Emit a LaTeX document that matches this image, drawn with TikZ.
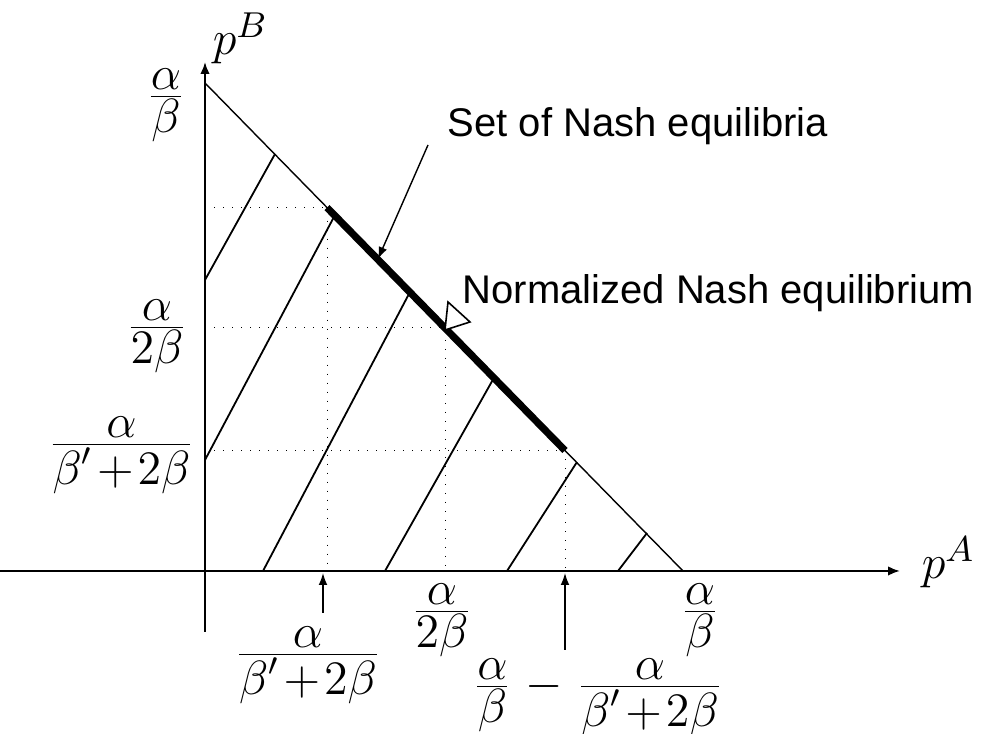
\documentclass[tikz,border=0pt]{standalone}
\usepackage{amsmath}
\usepackage{fontspec}
\setsansfont{Liberation Sans}
\usetikzlibrary{arrows.meta}
\newcommand{\myfr}[2]{\frac{\displaystyle #1}{\displaystyle #2}}
\newcommand{\mydenom}{\beta'\mkern1.5mu{+}\mkern1.5mu2\beta}
\tikzset{
  px/.style={x=0.25pt,y=-0.25pt},
  axisline/.style={line width=0.55pt,-{Latex[length=3pt,width=2.4pt]}},
  hyp/.style={line width=0.35pt},
  thickseg/.style={line width=1.8pt},
  guide/.style={line width=0.25pt,dotted},
  hatch/.style={line width=0.45pt},
  pointer/.style={line width=0.35pt,-{Latex[length=3pt,width=2.2pt]}},
  mlabel/.style={inner sep=0pt,font=\fontsize{11.5}{14}\selectfont},
  axlabel/.style={inner sep=0pt,font=\fontsize{13}{15}\selectfont},
  tlabel/.style={inner sep=0pt,font=\sffamily\fontsize{10}{12}\selectfont}
}
\begin{document}
\begin{tikzpicture}[px]
\useasboundingbox (0,0) rectangle (987,734);
% coordinates
\coordinate (ybot) at (205,632);
\coordinate (ytip) at (205,62);
\coordinate (xl) at (0,571);
\coordinate (xtip) at (900,571);
\coordinate (T) at (205,83);
\coordinate (R) at (683,571);
\coordinate (P1) at (327,207.6);
\coordinate (M) at (445,328);
\coordinate (P2) at (565,450.5);
% guides
\draw[guide] (205,207.6) -- (P1) -- (327,571);
\draw[guide] (205,328) -- (M) -- (445,571);
\draw[guide] (205,450.5) -- (P2) -- (565,571);
% hatching
\draw[hatch] (205,280) -- (275,154);
\draw[hatch] (205,460) -- (335,215);
\draw[hatch] (263,571) -- (410,292);
\draw[hatch] (385,571) -- (495,376);
\draw[hatch] (507,571) -- (577,462);
\draw[hatch] (618,571) -- (647,533);
% axes
\draw[axisline] (ybot) -- (ytip);
\draw[axisline] (xl) -- (xtip);
% hypotenuse and equilibrium set
\draw[hyp] (T) -- (R);
\draw[thickseg] (P1) -- (P2);
% axis labels
\node[axlabel,anchor=base west] (pB) at (212,55) {$p^B$};
\node[axlabel,anchor=base west] (pA) at (921,579) {$p^A$};
% vertical axis labels
\node[mlabel,anchor=base] (yl1) at (166,108.5) {$\myfr{\alpha}{\beta}$};
\node[mlabel,anchor=base] (yl2) at (157,339.5) {$\myfr{\alpha}{2\beta}$};
\node[mlabel,anchor=base east] (yl3) at (196,456.5) {$\myfr{\alpha}{\mydenom}$};
% horizontal axis labels
\node[mlabel,anchor=base] (xl1) at (308,666.5) {$\myfr{\alpha}{\mydenom}$};
\node[mlabel,anchor=base] (xl2) at (442,623.5) {$\myfr{\alpha}{2\beta}$};
\node[mlabel,anchor=base] (xl3) at (700,623.5) {$\myfr{\alpha}{\beta}$};
\node[mlabel,anchor=base] (xl4) at (598,698.5) {$\myfr{\alpha}{\beta}\mkern1mu-\mkern1mu\myfr{\alpha}{\mydenom}$};
% tick arrows
\coordinate (a1s) at (323,613);
\coordinate (a1e) at (323,573);
\coordinate (a2s) at (565,650);
\coordinate (a2e) at (565,573);
\draw[pointer] (a1s) -- (a1e);
\draw[pointer] (a2s) -- (a2e);
% annotations
\node[tlabel,anchor=base west] (setlbl) at (447,137) {Set of Nash equilibria};
\node[tlabel,anchor=base west] (normlbl) at (462,304) {Normalized Nash equilibrium};
\coordinate (sa) at (428,145);
\coordinate (sb) at (378,259);
\draw[pointer] (sa) -- (sb);
\draw[line width=0.4pt,fill=white] (445,330) -- (448,302) -- (470,322) -- cycle;
\end{tikzpicture}
\end{document}
